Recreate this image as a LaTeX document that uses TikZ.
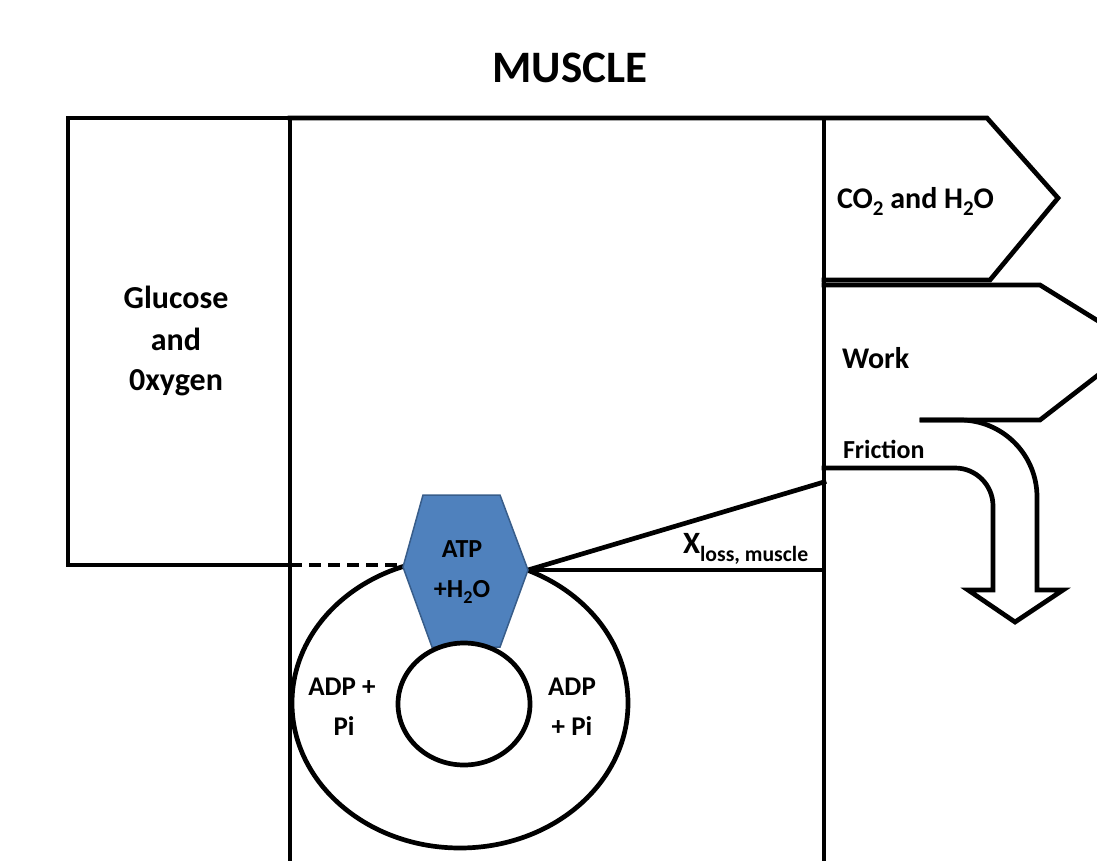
\documentclass[tikz,border=0pt]{standalone}
\usepackage{fontspec}
\usepackage{graphicx}
\setmainfont{Carlito}
\newcommand\fsz[1]{\bfseries\fontsize{#1}{#1}\selectfont}
\newcommand\lowsub[1]{\raisebox{-0.26em}{\scalebox{0.7}{#1}}}
\definecolor{hexblue}{RGB}{79,129,189}
\definecolor{hexedge}{RGB}{56,93,138}
\begin{document}
\begin{tikzpicture}[x=1pt,y=-1pt,
  ln/.style={line width=4.7pt, line join=miter, line cap=rect},
  lbl/.style={inner sep=0pt, outer sep=0pt, text=black}]
\useasboundingbox (0,0) rectangle (1097,861);
\clip (0,0) rectangle (1097,861);
% left box (glucose and oxygen)
\draw[ln] (68,118) rectangle (290,565);
% top line and CO2 arrow
\draw[ln] (290,118) -- (987,118) -- (1058,198) -- (990,280) -- (824,280);
% vertical boundaries
\draw[ln] (290,118) -- (290,875);
\draw[ln] (824,118) -- (824,875);
% work arrow
\draw[ln] (824,285) -- (1040,285) -- (1137,345) -- (1040,420) -- (922,420);
% friction arrow
\draw[ln] (922,420) -- (960,420) .. controls (1002.5,420) and (1037,454.5) .. (1037,497)
  -- (1037,590) -- (1063,590) -- (1015,622) -- (968,590) -- (993,590) -- (993,506)
  .. controls (993,485) and (976,468) .. (955,468) -- (824,468);
% dashed line
\draw[ln, line cap=butt, dash pattern=on 12pt off 7pt] (290,565) -- (403,565);
% loss lines
\draw[ln] (528,570) -- (824,482);
\draw[ln] (528,570) -- (824,570);
% ATP cycle
\draw[ln] (460,703) ellipse [x radius=168, y radius=145];
\fill[hexblue, draw=hexedge, line width=1.5pt] (423,495) -- (500,495) -- (528,570)
  -- (500,647) -- (432,647) -- (403,567) -- cycle;
\draw[ln, fill=white] (464,704) ellipse [x radius=66, y radius=61];
% texts
\node[lbl, anchor=base, font=\fsz{45}] (title) at (570,83) {MUSCLE};
\node[lbl, anchor=base, font=\fsz{32}] (gl1) at (176,308) {Glucose};
\node[lbl, anchor=base, font=\fsz{32}] (gl2) at (176,350) {and};
\node[lbl, anchor=base, font=\fsz{32}] (gl3) at (176,390) {0xygen};
\node[lbl, anchor=base west, font=\fsz{30}] (co2) at (837,208) {CO\lowsub{2} and H\lowsub{2}O};
\node[lbl, anchor=base west, font=\fsz{30}] (work) at (842,368) {Work};
\node[lbl, anchor=base west, font=\fsz{26}] (friction) at (843,458) {Friction};
\node[lbl, anchor=base west, font=\fsz{31}] (xloss) at (683,553) {X\lowsub{loss, muscle}};
\node[lbl, anchor=base, font=\fsz{26}] (atp1) at (462,557) {ATP};
\node[lbl, anchor=base, font=\fsz{26}] (atp2) at (462,597) {+H\lowsub{2}O};
\node[lbl, anchor=base, font=\fsz{27}] (adpl1) at (342,695) {ADP +};
\node[lbl, anchor=base, font=\fsz{27}] (adpl2) at (344,735) {Pi};
\node[lbl, anchor=base, font=\fsz{27}] (adpr1) at (572,695) {ADP};
\node[lbl, anchor=base, font=\fsz{27}] (adpr2) at (572,735) {+ Pi};
\end{tikzpicture}
\end{document}
